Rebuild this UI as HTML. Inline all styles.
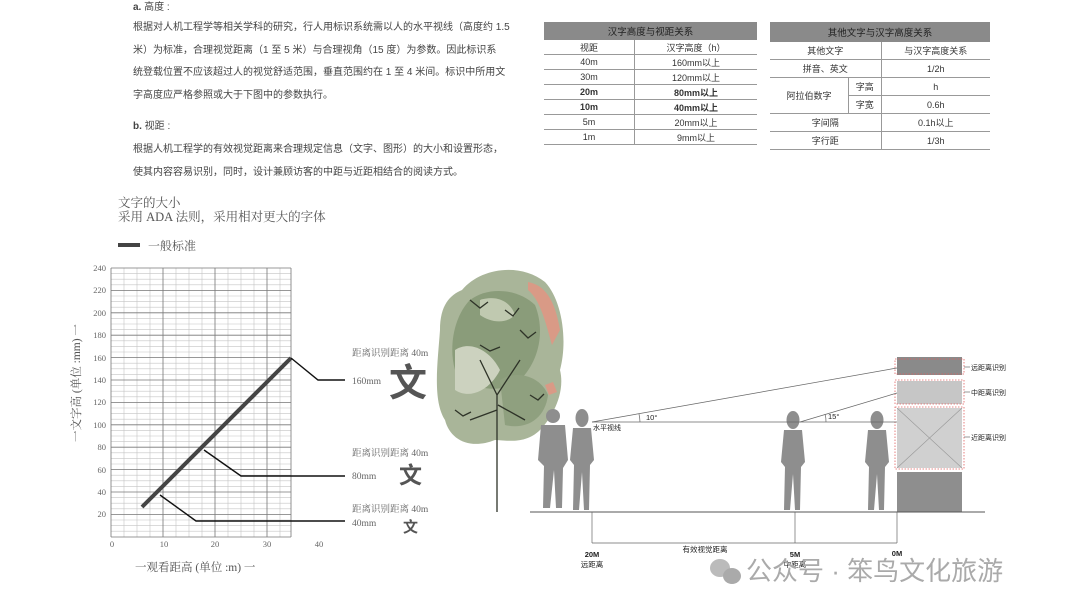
<!DOCTYPE html>
<html><head><meta charset="utf-8"><style>
html,body{margin:0;padding:0;background:#fff}
body{width:1080px;height:612px;position:relative;overflow:hidden;font-family:"Liberation Sans","Noto Sans CJK SC",sans-serif;color:#333}
.p{position:absolute;font-size:10px;white-space:nowrap;color:#444}
.s{font-family:"Liberation Serif","Noto Serif CJK SC",serif;color:#555}
table{position:absolute;border-collapse:collapse;font-size:9px;color:#333}
td{text-align:center;border-bottom:1px solid #999;height:14px;padding:0}
th{background:#8a8a8a;color:#222;font-weight:normal;height:16px;font-size:9.5px}
</style></head><body>
<div class="p" style="left:133px;top:-2px"><b>a.</b> 高度 :</div>
<div class="p" style="left:133px;top:17px;line-height:22.5px">根据对人机工程学等相关学科的研究，行人用标识系统需以人的水平视线（高度约 1.5<br>米）为标准，合理视觉距离（1 至 5 米）与合理视角（15 度）为参数。因此标识系<br>统登载位置不应该超过人的视觉舒适范围，垂直范围约在 1 至 4 米间。标识中所用文<br>字高度应严格参照或大于下图中的参数执行。</div>
<div class="p" style="left:133px;top:117px"><b>b.</b> 视距 :</div>
<div class="p" style="left:133px;top:139px;line-height:22.5px">根据人机工程学的有效视觉距离来合理规定信息（文字、图形）的大小和设置形态，<br>使其内容容易识别，同时，设计兼顾访客的中距与近距相结合的阅读方式。</div>
<div class="p s" style="left:118px;top:193px;font-size:12.5px">文字的大小</div>
<div class="p s" style="left:118px;top:207px;font-size:12.5px">采用 ADA 法则，采用相对更大的字体</div>
<div style="position:absolute;left:118px;top:243px;width:22px;height:4px;background:#444"></div>
<div class="p s" style="left:148px;top:237px;font-size:12px">一般标准</div>

<table style="left:544px;top:22px;width:213px">
<tr><th colspan="2">汉字高度与视距关系</th></tr>
<tr><td style="border-right:1px solid #999;width:90px">视距</td><td>汉字高度（h）</td></tr>
<tr><td style="border-right:1px solid #999">40m</td><td>160mm以上</td></tr>
<tr><td style="border-right:1px solid #999">30m</td><td>120mm以上</td></tr>
<tr style="font-weight:bold"><td style="border-right:1px solid #999">20m</td><td>80mm以上</td></tr>
<tr style="font-weight:bold"><td style="border-right:1px solid #999">10m</td><td>40mm以上</td></tr>
<tr><td style="border-right:1px solid #999">5m</td><td>20mm以上</td></tr>
<tr><td style="border-right:1px solid #999">1m</td><td>9mm以上</td></tr>
</table>
<table style="left:770px;top:22px;width:220px">
<tr><th colspan="3" style="height:18px">其他文字与汉字高度关系</th></tr>
<tr><td colspan="2" style="border-right:1px solid #999;height:17px">其他文字</td><td>与汉字高度关系</td></tr>
<tr><td colspan="2" style="border-right:1px solid #999;height:17px">拼音、英文</td><td>1/2h</td></tr>
<tr><td rowspan="2" style="border-right:1px solid #999;width:78px">阿拉伯数字</td><td style="border-right:1px solid #999;height:17px">字高</td><td>h</td></tr>
<tr><td style="border-right:1px solid #999;height:17px">字宽</td><td>0.6h</td></tr>
<tr><td colspan="2" style="border-right:1px solid #999;height:17px">字间隔</td><td>0.1h以上</td></tr>
<tr><td colspan="2" style="border-right:1px solid #999;height:17px">字行距</td><td>1/3h</td></tr>
</table>

<svg width="1080" height="612" style="position:absolute;left:0;top:0">
<g stroke="#c4c4c4" stroke-width="0.6">
<line x1="124" y1="268" x2="124" y2="537"/><line x1="137" y1="268" x2="137" y2="537"/><line x1="150" y1="268" x2="150" y2="537"/>
<line x1="176" y1="268" x2="176" y2="537"/><line x1="189" y1="268" x2="189" y2="537"/><line x1="202" y1="268" x2="202" y2="537"/>
<line x1="228" y1="268" x2="228" y2="537"/><line x1="241" y1="268" x2="241" y2="537"/><line x1="254" y1="268" x2="254" y2="537"/>
<line x1="280" y1="268" x2="280" y2="537"/>
<line x1="111" y1="273.6" x2="291" y2="273.6"/><line x1="111" y1="279.2" x2="291" y2="279.2"/><line x1="111" y1="284.8" x2="291" y2="284.8"/>
<line x1="111" y1="296" x2="291" y2="296"/><line x1="111" y1="301.6" x2="291" y2="301.6"/><line x1="111" y1="307.2" x2="291" y2="307.2"/>
<line x1="111" y1="318.4" x2="291" y2="318.4"/><line x1="111" y1="324" x2="291" y2="324"/><line x1="111" y1="329.6" x2="291" y2="329.6"/>
<line x1="111" y1="340.8" x2="291" y2="340.8"/><line x1="111" y1="346.4" x2="291" y2="346.4"/><line x1="111" y1="352" x2="291" y2="352"/>
<line x1="111" y1="363.2" x2="291" y2="363.2"/><line x1="111" y1="368.8" x2="291" y2="368.8"/><line x1="111" y1="374.4" x2="291" y2="374.4"/>
<line x1="111" y1="385.6" x2="291" y2="385.6"/><line x1="111" y1="391.2" x2="291" y2="391.2"/><line x1="111" y1="396.8" x2="291" y2="396.8"/>
<line x1="111" y1="408" x2="291" y2="408"/><line x1="111" y1="413.6" x2="291" y2="413.6"/><line x1="111" y1="419.2" x2="291" y2="419.2"/>
<line x1="111" y1="430.4" x2="291" y2="430.4"/><line x1="111" y1="436" x2="291" y2="436"/><line x1="111" y1="441.6" x2="291" y2="441.6"/>
<line x1="111" y1="452.8" x2="291" y2="452.8"/><line x1="111" y1="458.4" x2="291" y2="458.4"/><line x1="111" y1="464" x2="291" y2="464"/>
<line x1="111" y1="475.2" x2="291" y2="475.2"/><line x1="111" y1="480.8" x2="291" y2="480.8"/><line x1="111" y1="486.4" x2="291" y2="486.4"/>
<line x1="111" y1="497.6" x2="291" y2="497.6"/><line x1="111" y1="503.2" x2="291" y2="503.2"/><line x1="111" y1="508.8" x2="291" y2="508.8"/>
<line x1="111" y1="520" x2="291" y2="520"/><line x1="111" y1="525.6" x2="291" y2="525.6"/><line x1="111" y1="531.2" x2="291" y2="531.2"/>
</g>
<g stroke="#777" stroke-width="0.8">
<line x1="111" y1="268" x2="111" y2="537"/><line x1="163" y1="268" x2="163" y2="537"/><line x1="215" y1="268" x2="215" y2="537"/><line x1="267" y1="268" x2="267" y2="537"/><line x1="291" y1="268" x2="291" y2="537"/>
<line x1="111" y1="268" x2="291" y2="268"/><line x1="111" y1="290.4" x2="291" y2="290.4"/><line x1="111" y1="312.8" x2="291" y2="312.8"/><line x1="111" y1="335.2" x2="291" y2="335.2"/><line x1="111" y1="357.6" x2="291" y2="357.6"/><line x1="111" y1="380" x2="291" y2="380"/><line x1="111" y1="402.4" x2="291" y2="402.4"/><line x1="111" y1="424.8" x2="291" y2="424.8"/><line x1="111" y1="447.2" x2="291" y2="447.2"/><line x1="111" y1="469.6" x2="291" y2="469.6"/><line x1="111" y1="492" x2="291" y2="492"/><line x1="111" y1="514.4" x2="291" y2="514.4"/><line x1="111" y1="537" x2="291" y2="537"/>
</g>
<g font-family="Liberation Serif,Noto Serif CJK SC,serif">
<g fill="#666" font-size="8.5" text-anchor="end">
<text x="106" y="271">240</text><text x="106" y="293">220</text><text x="106" y="316">200</text><text x="106" y="338">180</text><text x="106" y="361">160</text><text x="106" y="383">140</text><text x="106" y="405">120</text><text x="106" y="428">100</text><text x="106" y="450">80</text><text x="106" y="473">60</text><text x="106" y="495">40</text><text x="106" y="517">20</text>
</g>
<g fill="#666" font-size="8.5" text-anchor="middle">
<text x="112" y="547">0</text><text x="164" y="547">10</text><text x="215" y="547">20</text><text x="267" y="547">30</text><text x="319" y="547">40</text>
</g>
<text x="135" y="571" font-size="11.5" fill="#555">一观看距高 (单位 :m) 一</text>
<text transform="translate(80,383) rotate(-90)" font-size="11.5" fill="#555" text-anchor="middle">一文字高 (单位 :mm) 一</text>
<line x1="142" y1="507" x2="291" y2="358" stroke="#444" stroke-width="4"/>
<g stroke="#111" stroke-width="1.4" fill="none">
<polyline points="291,358 318,380 345,380"/>
<polyline points="204,450 241,476 345,476"/>
<polyline points="160,495 196,521 345,521"/>
</g>
<g fill="#666" font-size="9.5">
<text x="352" y="356">距离识别距离 40m</text><text x="352" y="384">160mm</text>
<text x="352" y="456">距离识别距离 40m</text><text x="352" y="479">80mm</text>
<text x="352" y="512">距离识别距离 40m</text><text x="352" y="526">40mm</text>
</g>
</g>
<g fill="#555" font-family="Liberation Sans,Noto Sans CJK SC,sans-serif" font-weight="bold">
<text x="389" y="396" font-size="38">文</text>
<text x="399" y="483" font-size="23">文</text>
<text x="403" y="532" font-size="15">文</text>
</g>

<!-- tree -->
<g>
<path d="M462,290 C480,268 520,262 545,282 C562,300 568,340 560,370 C566,395 550,420 540,430 C525,445 505,440 495,440 C470,450 450,440 445,420 C432,400 438,360 440,330 C440,305 450,295 462,290Z" fill="#a9b599"/>
<path d="M470,300 C490,285 520,290 535,305 C545,330 540,360 520,380 C500,395 470,390 455,370 C448,345 455,315 470,300Z" fill="#8a9c7a"/>
<path d="M500,380 C515,370 540,375 548,395 C545,420 525,430 505,425Z" fill="#8fa07f"/>
<path d="M528,282 C545,285 555,300 560,330 L552,345 C545,320 540,300 528,290Z" fill="#d99a86"/>
<path d="M545,385 l8,-3 l4,10 l-8,3Z" fill="#d99a86"/>
<path d="M455,350 C470,340 490,350 500,370 C490,390 470,400 455,390Z" fill="#ccd2bf"/>
<path d="M480,300 C495,295 510,300 515,315 C505,325 490,322 480,315Z" fill="#c0c9b0"/>
<g stroke="#2e3328" stroke-width="1.3" fill="none">
<path d="M497,512 L497,395 L480,360 M497,395 L520,360 M497,410 L470,420 M498,405 L525,420"/>
<path d="M470,300 l10,8 l8,-6 M505,310 l8,6 l6,-8 M480,345 l10,6 l10,-4 M520,330 l8,8 l8,-6 M455,410 l8,6 l8,-4 M530,395 l8,5 l6,-6"/>
</g>
</g>
<!-- people -->
<g fill="#8e8e8e">
<g transform="translate(553,408)"><circle cx="0" cy="8" r="7"/><path d="M-12,17 L12,17 L15,52 L10,60 L9,100 L3,100 L1,62 L-3,100 L-10,100 L-9,58 L-15,52Z"/></g>
<g transform="translate(582,410)"><ellipse cx="0" cy="8" rx="6.5" ry="9"/><path d="M-9,18 L9,18 L12,50 L8,55 L7,100 L2,100 L0,62 L-3,100 L-9,100 L-8,55 L-12,50Z"/></g>
<g transform="translate(793,412)"><ellipse cx="0" cy="8" rx="6.5" ry="9"/><path d="M-9,18 L9,18 L12,50 L8,55 L7,98 L2,98 L0,62 L-3,98 L-9,98 L-8,55 L-12,50Z"/></g>
<g transform="translate(877,412)"><ellipse cx="0" cy="8" rx="6.5" ry="9"/><path d="M-9,18 L9,18 L12,50 L8,55 L7,98 L2,98 L0,62 L-3,98 L-9,98 L-8,55 L-12,50Z"/></g>
</g>
<!-- sign -->
<rect x="897" y="357" width="65" height="18" fill="#8a8a8a"/>
<rect x="897" y="381" width="65" height="23" fill="#c6c6c6"/>
<rect x="897" y="408" width="65" height="60" fill="#d0d0d0"/>
<rect x="897" y="472" width="65" height="40" fill="#8e8e8e"/>
<g stroke="#999" stroke-width="0.6"><line x1="897" y1="408" x2="962" y2="468"/><line x1="962" y1="408" x2="897" y2="468"/></g>
<g fill="none" stroke="#e06060" stroke-width="0.8" stroke-dasharray="1.5,1.5">
<rect x="895" y="359" width="69" height="15"/><rect x="895" y="380" width="69" height="24"/><rect x="895" y="407" width="69" height="62"/>
</g>
<g stroke="#555" stroke-width="0.6"><line x1="964" y1="367" x2="970" y2="367"/><line x1="964" y1="392" x2="970" y2="392"/><line x1="964" y1="437" x2="970" y2="437"/></g>
<g font-family="Liberation Sans,Noto Sans CJK SC,sans-serif" font-size="7" fill="#222">
<text x="971" y="370">远距离识别</text><text x="971" y="395">中距离识别</text><text x="971" y="440">近距离识别</text>
</g>
<g stroke="#666" stroke-width="0.7" fill="none">
<line x1="592" y1="422" x2="897" y2="422"/>
<line x1="592" y1="422" x2="897" y2="368"/>
<line x1="800" y1="422" x2="897" y2="393"/>
<path d="M640,422 A48,48 0 0 0 639,414"/><path d="M826,422 A26,26 0 0 0 825,414"/>
<line x1="530" y1="512" x2="985" y2="512" stroke="#555" stroke-width="1"/>
<line x1="592" y1="512" x2="592" y2="543"/><line x1="795" y1="512" x2="795" y2="543"/><line x1="897" y1="512" x2="897" y2="543"/>
<line x1="592" y1="543" x2="897" y2="543"/>
</g>
<g font-family="Liberation Sans,Noto Sans CJK SC,sans-serif" fill="#222" font-size="7.5">
<text x="646" y="420">10°</text><text x="828" y="419">15°</text>
<text x="593" y="430" font-size="7">水平视线</text>
<text x="592" y="557" text-anchor="middle" font-weight="bold">20M</text><text x="592" y="567" text-anchor="middle">远距离</text>
<text x="705" y="552" text-anchor="middle">有效视觉距离</text>
<text x="795" y="557" text-anchor="middle" font-weight="bold">5M</text><text x="795" y="567" text-anchor="middle">中距离</text>
<text x="897" y="556" text-anchor="middle" font-weight="bold">0M</text>
</g>
<g fill="#bbb"><ellipse cx="720" cy="568" rx="10" ry="9"/><ellipse cx="732" cy="576" rx="9" ry="8" fill="#aaa"/></g>
<text x="746" y="580" font-family="Liberation Sans,Noto Sans CJK SC,sans-serif" font-size="26" fill="#aaa">公众号 · 笨鸟文化旅游</text>
</svg>
</body></html>
